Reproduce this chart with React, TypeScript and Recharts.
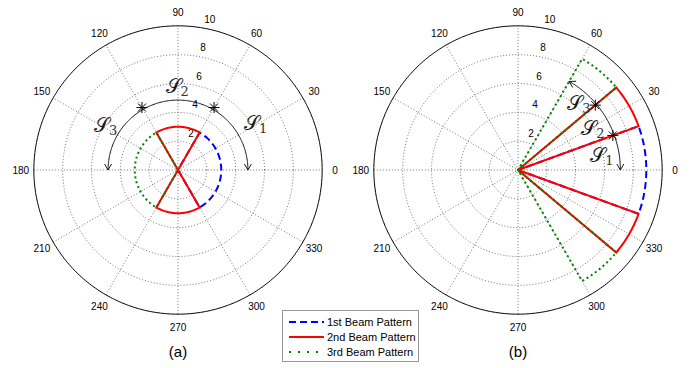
import { Scatter, ScatterChart, XAxis, YAxis } from "recharts";

// [start angle (deg), end angle (deg), radius]
type Sector = [number, number, number];

const ANGLE_TICKS = [0, 30, 60, 90, 120, 150, 180, 210, 240, 270, 300, 330];
const SPOKES = [0, 30, 60, 90, 120, 150];
const RADIUS_TICKS = [2, 4, 6, 8, 10];
const R_MAX = 10;

// panel (a)
const BEAM1_A: Sector[] = [[-60, 60, 3]];
const BEAM2_A: Sector[] = [[60, 120, 3], [240, 300, 3]];
const BEAM3_A: Sector[] = [[120, 240, 3]];
const STARS_A = [[60, 5], [120, 5]];
const SWEEP_A: Sector = [0, 180, 4.85];

// panel (b)
const BEAM1_B: Sector[] = [[-20, 20, 8.9]];
const BEAM2_B: Sector[] = [[20, 40, 8.9], [-40, -20, 8.9]];
const BEAM3_B: Sector[] = [[40, 60, 8.9], [-60, -40, 8.9]];
const STARS_B = [[20, 7], [40, 7]];
const SWEEP_B: Sector = [0, 60, 7.1];

const SET_NAMES = ["1", "2", "3"];
const BEAM_NAMES = ["1st Beam Pattern", "2nd Beam Pattern", "3rd Beam Pattern"];

const BEAM_STYLE = [
  { stroke: "#0000ff", dash: "7 4" },
  { stroke: "#ff0000", dash: undefined },
  { stroke: "#008000", dash: "2 3" },
];

const SIZE = 346;
const SPAN = 12;
const GRID = "#3a3a3a";
const FONT = "'Liberation Sans', Arial, sans-serif";
const SCRIPT = "'DejaVu Serif', 'Liberation Serif', serif";

const PANELS = [
  {
    id: "a",
    left: 5,
    beams: [BEAM1_A, BEAM2_A, BEAM3_A],
    stars: STARS_A,
    sweep: SWEEP_A,
    // polar spots (deg, r) of the S1..S3 labels
    labelAt: [[27.2, 6.06], [90.6, 5.34], [152.3, 5.67]],
  },
  {
    id: "b",
    left: 345,
    beams: [BEAM1_B, BEAM2_B, BEAM3_B],
    stars: STARS_B,
    sweep: SWEEP_B,
    labelAt: [[5.4, 5.85], [25, 5.74], [44.5, 5.93]],
  },
];

const RAD = Math.PI / 180;
const pt = (deg: number, r: number) => ({ x: r * Math.cos(deg * RAD), y: r * Math.sin(deg * RAD) });

const arcPts = (from: number, to: number, r: number) => {
  const n = Math.max(2, Math.ceil(Math.abs(to - from)));
  return Array.from({ length: n + 1 }, (_, i) => pt(from + ((to - from) * i) / n, r));
};

const sectorPts = (sectors: Sector[]) =>
  sectors.flatMap(([a, b, r]) => [pt(a, 0), ...arcPts(a, b, r), pt(b, 0)]);

const Nothing = () => null;

const AngleLabel = (p: any) => (
  <text x={p.cx} y={p.cy} textAnchor="middle" dominantBaseline="central" fontSize={10} fontFamily={FONT} fill="#000">
    {p.payload.label}
  </text>
);

const RadiusLabel = (p: any) => (
  <text x={p.cx} y={p.cy} dx={6} dy={-3} textAnchor="start" fontSize={10} fontFamily={FONT} fill="#000">
    {p.payload.label}
  </text>
);

const Star = ({ cx, cy }: any) => (
  <path
    d={`M${cx - 5.5},${cy}h11M${cx},${cy - 5.5}v11M${cx - 4},${cy - 4}l8,8M${cx - 4},${cy + 4}l8,-8`}
    stroke="#000"
    strokeWidth={1}
  />
);

const ArrowHead = ({ cx, cy, payload }: any) => (
  <path
    d="M-6,-3.5L0,0L-6,3.5"
    transform={`translate(${cx},${cy}) rotate(${-payload.dir})`}
    fill="none"
    stroke="#000"
    strokeWidth={0.9}
  />
);

const SetLabel = ({ cx, cy, payload }: any) => (
  <text x={cx} y={cy} textAnchor="middle" fill="#1a1a1a" fontFamily={SCRIPT}>
    <tspan fontSize={20}>𝒮</tspan>
    <tspan fontSize={13} dy={3} fill="#333">
      {payload.label}
    </tspan>
  </text>
);

function PolarPanel({ panel }: { panel: (typeof PANELS)[number] }) {
  const [s0, s1, sr] = panel.sweep;
  return (
    <div style={{ position: "absolute", left: panel.left, top: -3 }}>
      <ScatterChart width={SIZE} height={SIZE} margin={{ top: 0, right: 0, bottom: 0, left: 0 }}>
        <XAxis type="number" dataKey="x" domain={[-SPAN, SPAN]} hide allowDataOverflow />
        <YAxis type="number" dataKey="y" domain={[-SPAN, SPAN]} hide allowDataOverflow />

        {RADIUS_TICKS.filter((r) => r < R_MAX).map((r) => (
          <Scatter
            key={`ring${r}`}
            data={arcPts(0, 360, r)}
            line={{ stroke: GRID, strokeWidth: 0.7, strokeDasharray: "1 2" }}
            lineType="joint"
            shape={Nothing}
            isAnimationActive={false}
          />
        ))}
        {SPOKES.map((a) => (
          <Scatter
            key={`spoke${a}`}
            data={[pt(a + 180, R_MAX), pt(a, R_MAX)]}
            line={{ stroke: GRID, strokeWidth: 0.7, strokeDasharray: "1 2" }}
            lineType="joint"
            shape={Nothing}
            isAnimationActive={false}
          />
        ))}
        <Scatter
          data={arcPts(0, 360, R_MAX)}
          line={{ stroke: "#000", strokeWidth: 1 }}
          lineType="joint"
          shape={Nothing}
          isAnimationActive={false}
        />
        <Scatter
          data={ANGLE_TICKS.map((a) => ({ ...pt(a, 10.9), label: String(a) }))}
          shape={AngleLabel}
          isAnimationActive={false}
        />
        <Scatter
          data={RADIUS_TICKS.map((r) => ({ ...pt(82, r + 0.1), label: String(r) }))}
          shape={RadiusLabel}
          isAnimationActive={false}
        />

        {panel.beams.map((sectors, i) => (
          <Scatter
            key={`beam${i}`}
            name={BEAM_NAMES[i]}
            data={sectorPts(sectors)}
            line={{
              stroke: BEAM_STYLE[i].stroke,
              strokeWidth: 2,
              strokeDasharray: BEAM_STYLE[i].dash,
            }}
            lineType="joint"
            shape={Nothing}
            isAnimationActive={false}
          />
        ))}

        <Scatter
          data={arcPts(s0, s1, sr)}
          line={{ stroke: "#000", strokeWidth: 0.9 }}
          lineType="joint"
          shape={Nothing}
          isAnimationActive={false}
        />
        <Scatter
          data={[
            { ...pt(s0, sr), dir: s0 - 90 },
            { ...pt(s1, sr), dir: s1 + 90 },
          ]}
          shape={ArrowHead}
          isAnimationActive={false}
        />
        <Scatter
          data={panel.stars.map(([a, r]) => pt(a, r))}
          shape={Star}
          isAnimationActive={false}
        />
        <Scatter
          data={panel.labelAt.map(([a, r], i) => ({ ...pt(a, r), label: SET_NAMES[i] }))}
          shape={SetLabel}
          isAnimationActive={false}
        />
      </ScatterChart>
    </div>
  );
}

function LegendBox() {
  return (
    <div
      style={{
        position: "absolute",
        left: 282,
        top: 310,
        width: 135,
        height: 50,
        border: "1px solid #999",
        background: "#fff",
        fontFamily: FONT,
        fontSize: 11,
        boxSizing: "content-box",
      }}
    >
      {BEAM_NAMES.map((name, i) => (
        <div key={name} style={{ position: "absolute", left: 6, top: 3 + i * 15, height: 15, display: "flex", alignItems: "center" }}>
          <svg width={36} height={6} style={{ display: "block" }}>
            <line
              x1={0}
              y1={3}
              x2={35}
              y2={3}
              stroke={BEAM_STYLE[i].stroke}
              strokeWidth={2}
              strokeDasharray={i === 2 ? "2 7" : BEAM_STYLE[i].dash}
            />
          </svg>
          <span style={{ marginLeft: 2, whiteSpace: "nowrap" }}>{name}</span>
        </div>
      ))}
    </div>
  );
}

export default function App() {
  return (
    <div style={{ position: "absolute", left: 0, top: 0, width: 696, height: 368, background: "#fff", overflow: "hidden" }}>
      {PANELS.map((p) => (
        <PolarPanel key={p.id} panel={p} />
      ))}
      <LegendBox />
      {PANELS.map((p) => (
        <div
          key={`cap${p.id}`}
          style={{
            position: "absolute",
            left: p.left + SIZE / 2 - 20,
            width: 40,
            top: 343,
            textAlign: "center",
            fontFamily: FONT,
            fontSize: 15,
          }}
        >
          ({p.id})
        </div>
      ))}
    </div>
  );
}
